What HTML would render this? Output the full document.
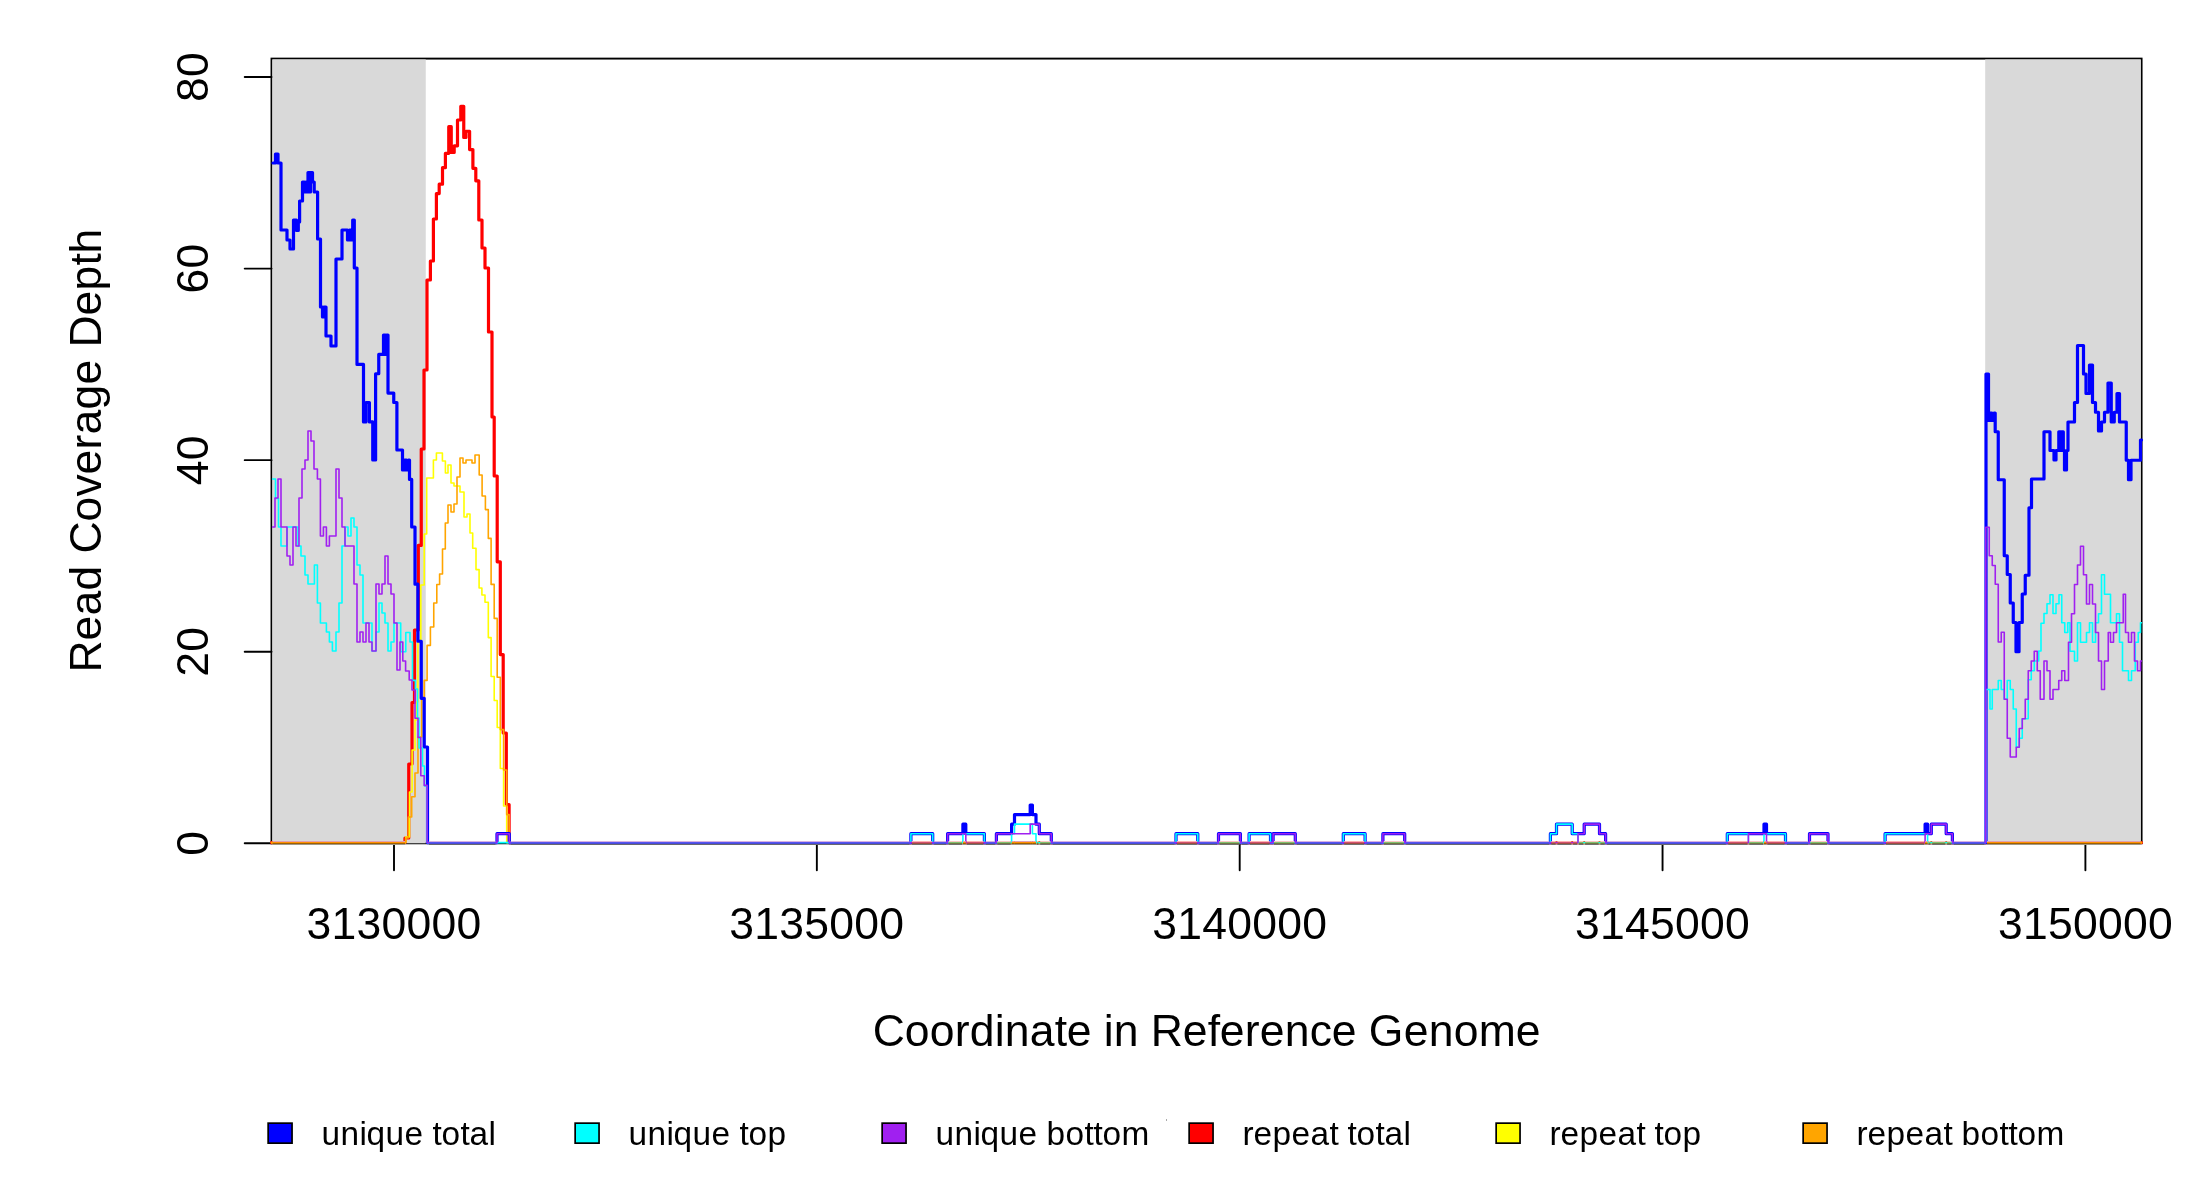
<!DOCTYPE html><html><head><meta charset="utf-8"><style>html,body{margin:0;padding:0;background:#fff;width:2200px;height:1200px;overflow:hidden}</style></head><body><svg width="2200" height="1200" viewBox="0 0 2200 1200" style="display:block;will-change:transform">
<rect x="0" y="0" width="2200" height="1200" fill="#fff"/>
<rect x="271.5" y="58.6" width="1870.1" height="784.6999999999999" fill="none" stroke="#000" stroke-width="1.9"/>
<rect x="272.3" y="59.4" width="153.45" height="783.9" fill="#d9d9d9"/>
<rect x="1985.2" y="59.4" width="155.60000000000014" height="783.9" fill="#d9d9d9"/>
<line x1="244.7" y1="843.30" x2="271.5" y2="843.30" stroke="#000" stroke-width="1.9" stroke-linecap="round"/>
<text transform="translate(207.70,843.30) rotate(-90)" x="-12.50" y="0" font-size="44.5" font-family='"Liberation Sans", sans-serif'>0</text>
<line x1="244.7" y1="651.72" x2="271.5" y2="651.72" stroke="#000" stroke-width="1.9" stroke-linecap="round"/>
<text transform="translate(207.70,651.72) rotate(-90)" x="-25.00 0.00" y="0" font-size="44.5" font-family='"Liberation Sans", sans-serif'>20</text>
<line x1="244.7" y1="460.15" x2="271.5" y2="460.15" stroke="#000" stroke-width="1.9" stroke-linecap="round"/>
<text transform="translate(207.70,460.15) rotate(-90)" x="-25.00 0.00" y="0" font-size="44.5" font-family='"Liberation Sans", sans-serif'>40</text>
<line x1="244.7" y1="268.58" x2="271.5" y2="268.58" stroke="#000" stroke-width="1.9" stroke-linecap="round"/>
<text transform="translate(207.70,268.58) rotate(-90)" x="-25.00 0.00" y="0" font-size="44.5" font-family='"Liberation Sans", sans-serif'>60</text>
<line x1="244.7" y1="77.00" x2="271.5" y2="77.00" stroke="#000" stroke-width="1.9" stroke-linecap="round"/>
<text transform="translate(207.70,77.00) rotate(-90)" x="-25.00 0.00" y="0" font-size="44.5" font-family='"Liberation Sans", sans-serif'>80</text>
<line x1="394.00" y1="843.3" x2="394.00" y2="870.3" stroke="#000" stroke-width="1.9" stroke-linecap="round"/>
<text x="306.50 331.50 356.50 381.50 406.50 431.50 456.50" y="939.00" font-size="44.5" font-family='"Liberation Sans", sans-serif'>3130000</text>
<line x1="816.85" y1="843.3" x2="816.85" y2="870.3" stroke="#000" stroke-width="1.9" stroke-linecap="round"/>
<text x="729.35 754.35 779.35 804.35 829.35 854.35 879.35" y="939.00" font-size="44.5" font-family='"Liberation Sans", sans-serif'>3135000</text>
<line x1="1239.70" y1="843.3" x2="1239.70" y2="870.3" stroke="#000" stroke-width="1.9" stroke-linecap="round"/>
<text x="1152.20 1177.20 1202.20 1227.20 1252.20 1277.20 1302.20" y="939.00" font-size="44.5" font-family='"Liberation Sans", sans-serif'>3140000</text>
<line x1="1662.55" y1="843.3" x2="1662.55" y2="870.3" stroke="#000" stroke-width="1.9" stroke-linecap="round"/>
<text x="1575.05 1600.05 1625.05 1650.05 1675.05 1700.05 1725.05" y="939.00" font-size="44.5" font-family='"Liberation Sans", sans-serif'>3145000</text>
<line x1="2085.40" y1="843.3" x2="2085.40" y2="870.3" stroke="#000" stroke-width="1.9" stroke-linecap="round"/>
<text x="1997.90 2022.90 2047.90 2072.90 2097.90 2122.90 2147.90" y="939.00" font-size="44.5" font-family='"Liberation Sans", sans-serif'>3150000</text>
<text x="872.80 904.80 929.80 954.80 969.80 994.80 1004.80 1029.80 1054.80 1066.80 1091.80 1103.80 1113.80 1138.80 1150.80 1182.80 1207.80 1219.80 1244.80 1259.80 1284.80 1309.80 1331.80 1356.80 1368.80 1403.80 1428.80 1453.80 1478.80 1515.80" y="1046.00" font-size="44.5" font-family='"Liberation Sans", sans-serif'>Coordinate in Reference Genome</text>
<text transform="translate(100.90,450.50) rotate(-90)" x="-222.00 -190.00 -165.00 -140.00 -115.00 -103.00 -71.00 -46.00 -24.00 1.00 16.00 41.00 66.00 91.00 103.00 135.00 160.00 185.00 197.00" y="0" font-size="44.5" font-family='"Liberation Sans", sans-serif'>Read Coverage Depth</text>
<path d="M271.50,842.60 L405.00,842.60 L405.00,838.00 L408.75,838.00 L408.75,764.00 L412.00,764.00 L412.00,702.50 L414.50,702.50 L414.50,630.00 L418.30,630.00 L418.30,545.40 L421.25,545.40 L421.25,449.00 L424.00,449.00 L424.00,370.00 L427.00,370.00 L427.00,280.00 L430.40,280.00 L430.40,261.00 L433.40,261.00 L433.40,219.00 L436.40,219.00 L436.40,193.60 L439.20,193.60 L439.20,184.20 L442.50,184.20 L442.50,167.70 L445.40,167.70 L445.40,153.30 L448.75,153.30 L448.75,126.70 L451.25,126.70 L451.25,152.50 L454.20,152.50 L454.20,145.80 L457.50,145.80 L457.50,120.00 L460.80,120.00 L460.80,106.25 L463.75,106.25 L463.75,137.50 L466.00,137.50 L466.00,131.25 L469.60,131.25 L469.60,149.60 L472.90,149.60 L472.90,168.30 L475.80,168.30 L475.80,180.80 L478.80,180.80 L478.80,220.00 L482.00,220.00 L482.00,248.00 L485.00,248.00 L485.00,268.00 L488.50,268.00 L488.50,332.00 L492.00,332.00 L492.00,417.00 L494.20,417.00 L494.20,476.00 L497.20,476.00 L497.20,561.80 L500.30,561.80 L500.30,654.60 L503.20,654.60 L503.20,733.00 L506.30,733.00 L506.30,804.60 L509.10,804.60 L509.10,842.60 L2141.50,842.60" fill="none" stroke="#ff0000" stroke-width="3.2" stroke-linejoin="round" stroke-linecap="round"/>
<path d="M271.50,842.60 L405.70,842.60 L405.70,837.00 L409.50,837.00 L409.50,792.00 L412.10,792.00 L412.10,750.00 L415.00,750.00 L415.00,720.00 L416.50,720.00 L416.50,702.00 L417.90,702.00 L417.90,640.00 L420.80,640.00 L420.80,585.00 L424.20,585.00 L424.20,534.00 L426.70,534.00 L426.70,478.00 L433.40,478.00 L433.40,460.00 L436.40,460.00 L436.40,453.00 L442.40,453.00 L442.40,461.00 L445.40,461.00 L445.40,473.00 L448.00,473.00 L448.00,465.00 L451.00,465.00 L451.00,483.00 L454.00,483.00 L454.00,486.00 L460.00,486.00 L460.00,492.00 L464.00,492.00 L464.00,517.00 L467.00,517.00 L467.00,514.00 L470.00,514.00 L470.00,533.00 L472.70,533.00 L472.70,548.30 L476.00,548.30 L476.00,569.60 L479.10,569.60 L479.10,588.00 L481.90,588.00 L481.90,595.00 L485.00,595.00 L485.00,602.20 L488.30,602.20 L488.30,637.60 L491.10,637.60 L491.10,676.50 L494.20,676.50 L494.20,700.50 L497.20,700.50 L497.20,727.50 L500.30,727.50 L500.30,768.50 L503.60,768.50 L503.60,806.00 L506.70,806.00 L506.70,842.60 L2141.50,842.60" fill="none" stroke="#ffff00" stroke-width="1.6" stroke-linejoin="round" stroke-linecap="round"/>
<path d="M271.50,842.60 L405.70,842.60 L405.70,838.00 L408.30,838.00 L408.30,817.00 L411.70,817.00 L411.70,796.70 L415.00,796.70 L415.00,773.00 L418.00,773.00 L418.00,737.00 L421.70,737.00 L421.70,698.75 L424.20,698.75 L424.20,680.40 L427.10,680.40 L427.10,645.40 L430.40,645.40 L430.40,627.00 L433.75,627.00 L433.75,603.00 L436.80,603.00 L436.80,584.50 L439.60,584.50 L439.60,574.00 L442.50,574.00 L442.50,549.00 L445.30,549.00 L445.30,523.00 L448.00,523.00 L448.00,505.00 L451.00,505.00 L451.00,512.00 L454.00,512.00 L454.00,504.00 L457.00,504.00 L457.00,477.00 L460.00,477.00 L460.00,458.00 L463.00,458.00 L463.00,463.00 L466.00,463.00 L466.00,460.00 L472.00,460.00 L472.00,463.00 L475.00,463.00 L475.00,455.00 L479.20,455.00 L479.20,475.00 L482.10,475.00 L482.10,496.00 L485.40,496.00 L485.40,509.60 L488.30,509.60 L488.30,538.40 L491.10,538.40 L491.10,584.40 L494.20,584.40 L494.20,618.40 L497.20,618.40 L497.20,677.20 L500.30,677.20 L500.30,729.60 L503.60,729.60 L503.60,770.00 L506.70,770.00 L506.70,814.60 L509.10,814.60 L509.10,842.60 L2141.50,842.60" fill="none" stroke="#ffa500" stroke-width="1.6" stroke-linejoin="round" stroke-linecap="round"/>
<path d="M273.00,163.00 L275.50,163.00 L275.50,154.00 L278.00,154.00 L278.00,163.00 L281.00,163.00 L281.00,230.00 L287.00,230.00 L287.00,240.00 L290.00,240.00 L290.00,249.00 L293.50,249.00 L293.50,220.00 L296.50,220.00 L296.50,230.50 L298.30,230.50 L298.30,222.00 L299.60,222.00 L299.60,201.00 L302.50,201.00 L302.50,182.00 L304.50,182.00 L304.50,192.00 L306.00,192.00 L306.00,182.00 L307.30,182.00 L307.30,192.00 L308.00,192.00 L308.00,172.50 L309.30,172.50 L309.30,192.00 L310.50,192.00 L310.50,172.50 L312.50,172.50 L312.50,182.00 L314.20,182.00 L314.20,192.00 L317.60,192.00 L317.60,239.00 L320.50,239.00 L320.50,307.00 L322.50,307.00 L322.50,317.00 L324.00,317.00 L324.00,307.00 L326.00,307.00 L326.00,336.00 L331.00,336.00 L331.00,346.00 L336.00,346.00 L336.00,259.00 L342.00,259.00 L342.00,230.00 L347.50,230.00 L347.50,240.00 L349.50,240.00 L349.50,230.00 L351.00,230.00 L351.00,240.00 L352.70,240.00 L352.70,220.00 L354.30,220.00 L354.30,268.00 L357.00,268.00 L357.00,364.40 L363.50,364.40 L363.50,421.90 L366.00,421.90 L366.00,402.50 L369.40,402.50 L369.40,421.90 L372.75,421.90 L372.75,460.00 L375.60,460.00 L375.60,373.75 L378.75,373.75 L378.75,354.40 L383.50,354.40 L383.50,335.00 L385.50,335.00 L385.50,354.40 L386.50,354.40 L386.50,335.00 L388.00,335.00 L388.00,393.10 L393.75,393.10 L393.75,402.50 L396.90,402.50 L396.90,450.00 L402.50,450.00 L402.50,470.00 L404.50,470.00 L404.50,460.00 L406.50,460.00 L406.50,470.00 L408.50,470.00 L408.50,460.00 L409.50,460.00 L409.50,479.40 L411.70,479.40 L411.70,527.00 L415.00,527.00 L415.00,584.20 L417.90,584.20 L417.90,641.25 L421.25,641.25 L421.25,698.30 L424.20,698.30 L424.20,747.00 L427.50,747.00 L427.50,842.60 L497.00,842.60 L497.00,833.72 L509.30,833.72 L509.30,842.60 L910.90,842.60 L910.90,833.72 L932.70,833.72 L932.70,842.60 L947.60,842.60 L947.60,833.72 L962.90,833.72 L962.90,824.14 L965.80,824.14 L965.80,833.72 L984.40,833.72 L984.40,842.60 L996.40,842.60 L996.40,833.72 L1011.60,833.72 L1011.60,824.14 L1014.50,824.14 L1014.50,814.56 L1030.20,814.56 L1030.20,804.98 L1032.40,804.98 L1032.40,814.56 L1036.00,814.56 L1036.00,824.14 L1039.30,824.14 L1039.30,833.72 L1051.30,833.72 L1051.30,842.60 L1176.00,842.60 L1176.00,833.72 L1197.80,833.72 L1197.80,842.60 L1218.50,842.60 L1218.50,833.72 L1240.40,833.72 L1240.40,842.60 L1249.10,842.60 L1249.10,833.72 L1270.50,833.72 L1270.50,842.60 L1273.10,842.60 L1273.10,833.72 L1295.30,833.72 L1295.30,842.60 L1343.30,842.60 L1343.30,833.72 L1365.10,833.72 L1365.10,842.60 L1382.90,842.60 L1382.90,833.72 L1404.70,833.72 L1404.70,842.60 L1550.40,842.60 L1550.40,833.72 L1556.50,833.72 L1556.50,824.14 L1572.20,824.14 L1572.20,833.72 L1578.00,833.72 L1578.00,833.72 L1584.20,833.72 L1584.20,824.14 L1599.50,824.14 L1599.50,833.72 L1605.60,833.72 L1605.60,842.60 L1727.30,842.60 L1727.30,833.72 L1748.40,833.72 L1748.40,833.72 L1764.00,833.72 L1764.00,824.14 L1766.50,824.14 L1766.50,833.72 L1785.50,833.72 L1785.50,842.60 L1809.50,842.60 L1809.50,833.72 L1828.00,833.72 L1828.00,842.60 L1885.10,842.60 L1885.10,833.72 L1925.10,833.72 L1925.10,824.14 L1927.60,824.14 L1927.60,833.72 L1931.30,833.72 L1931.30,824.14 L1946.20,824.14 L1946.20,833.72 L1952.40,833.72 L1952.40,842.60 L1986.00,842.60 L1986.00,374.00 L1988.50,374.00 L1988.50,420.50 L1990.00,420.50 L1990.00,413.00 L1992.00,413.00 L1992.00,420.50 L1994.00,420.50 L1994.00,413.00 L1995.20,413.00 L1995.20,431.75 L1998.25,431.75 L1998.25,479.75 L2004.25,479.75 L2004.25,555.75 L2007.25,555.75 L2007.25,574.50 L2010.25,574.50 L2010.25,603.00 L2013.25,603.00 L2013.25,622.50 L2016.00,622.50 L2016.00,651.75 L2019.00,651.75 L2019.00,622.50 L2022.25,622.50 L2022.25,594.00 L2025.25,594.00 L2025.25,575.25 L2029.00,575.25 L2029.00,507.75 L2031.50,507.75 L2031.50,479.00 L2044.00,479.00 L2044.00,431.75 L2050.00,431.75 L2050.00,450.50 L2054.00,450.50 L2054.00,460.00 L2056.00,460.00 L2056.00,450.50 L2058.80,450.50 L2058.80,431.75 L2060.50,431.75 L2060.50,450.50 L2061.80,450.50 L2061.80,431.75 L2063.30,431.75 L2063.30,450.50 L2064.50,450.50 L2064.50,470.00 L2066.50,470.00 L2066.50,450.50 L2068.00,450.50 L2068.00,422.00 L2074.50,422.00 L2074.50,402.50 L2077.50,402.50 L2077.50,345.50 L2083.50,345.50 L2083.50,374.00 L2086.00,374.00 L2086.00,393.50 L2089.50,393.50 L2089.50,365.00 L2092.50,365.00 L2092.50,402.50 L2095.50,402.50 L2095.50,412.25 L2098.50,412.25 L2098.50,431.00 L2101.50,431.00 L2101.50,422.00 L2104.50,422.00 L2104.50,412.25 L2108.00,412.25 L2108.00,383.00 L2111.25,383.00 L2111.25,422.00 L2114.25,422.00 L2114.25,412.25 L2117.00,412.25 L2117.00,393.50 L2119.50,393.50 L2119.50,422.00 L2126.25,422.00 L2126.25,460.25 L2128.50,460.25 L2128.50,479.75 L2131.00,479.75 L2131.00,460.25 L2140.50,460.25 L2140.50,440.00 L2141.50,440.00" fill="none" stroke="#0000ff" stroke-width="3.2" stroke-linejoin="round" stroke-linecap="round"/>
<path d="M272.60,479.00 L275.50,479.00 L275.50,498.50 L278.50,498.50 L278.50,527.00 L281.00,527.00 L281.00,546.00 L287.00,546.00 L287.00,527.00 L298.00,527.00 L298.00,546.00 L301.00,546.00 L301.00,556.00 L305.00,556.00 L305.00,575.00 L308.00,575.00 L308.00,584.00 L314.40,584.00 L314.40,565.00 L317.40,565.00 L317.40,603.00 L320.40,603.00 L320.40,623.00 L326.40,623.00 L326.40,632.00 L329.40,632.00 L329.40,642.00 L332.40,642.00 L332.40,651.00 L336.00,651.00 L336.00,632.00 L339.00,632.00 L339.00,603.00 L342.00,603.00 L342.00,546.00 L345.00,546.00 L345.00,527.00 L348.00,527.00 L348.00,536.00 L351.00,536.00 L351.00,518.00 L354.00,518.00 L354.00,527.00 L357.00,527.00 L357.00,565.00 L360.00,565.00 L360.00,575.00 L363.00,575.00 L363.00,623.00 L372.00,623.00 L372.00,651.00 L376.00,651.00 L376.00,632.00 L379.00,632.00 L379.00,603.00 L382.00,603.00 L382.00,613.00 L385.00,613.00 L385.00,623.00 L388.00,623.00 L388.00,651.00 L391.00,651.00 L391.00,642.00 L394.00,642.00 L394.00,623.00 L400.70,623.00 L400.70,651.80 L405.80,651.80 L405.80,632.50 L410.00,632.50 L410.00,642.00 L412.50,642.00 L412.50,680.40 L415.40,680.40 L415.40,689.00 L417.50,689.00 L417.50,718.00 L419.00,718.00 L419.00,748.00 L422.50,748.00 L422.50,766.00 L424.50,766.00 L424.50,786.00 L427.00,786.00 L427.00,842.60 L910.90,842.60 L910.90,833.72 L932.70,833.72 L932.70,842.60 L962.90,842.60 L962.90,833.72 L984.40,833.72 L984.40,842.60 L1011.60,842.60 L1011.60,833.72 L1014.50,833.72 L1014.50,824.14 L1032.40,824.14 L1032.40,833.72 L1036.00,833.72 L1036.00,842.60 L1176.00,842.60 L1176.00,833.72 L1197.80,833.72 L1197.80,842.60 L1249.10,842.60 L1249.10,833.72 L1270.50,833.72 L1270.50,842.60 L1343.30,842.60 L1343.30,833.72 L1365.10,833.72 L1365.10,842.60 L1550.40,842.60 L1550.40,833.72 L1556.50,833.72 L1556.50,824.14 L1572.20,824.14 L1572.20,833.72 L1578.00,833.72 L1578.00,842.60 L1727.30,842.60 L1727.30,833.72 L1748.40,833.72 L1748.40,842.60 L1764.00,842.60 L1764.00,833.72 L1785.50,833.72 L1785.50,842.60 L1885.10,842.60 L1885.10,833.72 L1927.60,833.72 L1927.60,842.60 L1985.80,842.60 L1985.80,689.50 L1990.00,689.50 L1990.00,709.00 L1992.25,709.00 L1992.25,689.50 L1998.25,689.50 L1998.25,680.50 L2001.25,680.50 L2001.25,689.50 L2004.25,689.50 L2004.25,699.25 L2007.25,699.25 L2007.25,680.50 L2010.25,680.50 L2010.25,689.50 L2013.25,689.50 L2013.25,709.00 L2016.25,709.00 L2016.25,747.25 L2019.25,747.25 L2019.25,738.25 L2022.25,738.25 L2022.25,718.75 L2028.25,718.75 L2028.25,679.75 L2031.25,679.75 L2031.25,670.75 L2034.25,670.75 L2034.25,661.00 L2038.75,661.00 L2038.75,651.00 L2041.00,651.00 L2041.00,623.25 L2044.00,623.25 L2044.00,613.50 L2047.00,613.50 L2047.00,603.75 L2050.00,603.75 L2050.00,594.75 L2053.00,594.75 L2053.00,613.50 L2056.00,613.50 L2056.00,603.75 L2059.00,603.75 L2059.00,594.75 L2061.75,594.75 L2061.75,622.75 L2064.75,622.75 L2064.75,632.50 L2067.75,632.50 L2067.75,622.75 L2070.00,622.75 L2070.00,651.25 L2074.50,651.25 L2074.50,661.00 L2077.50,661.00 L2077.50,622.75 L2080.50,622.75 L2080.50,642.25 L2086.50,642.25 L2086.50,632.50 L2089.50,632.50 L2089.50,622.75 L2092.50,622.75 L2092.50,642.25 L2095.50,642.25 L2095.50,622.75 L2098.50,622.75 L2098.50,613.75 L2101.50,613.75 L2101.50,574.75 L2104.50,574.75 L2104.50,594.25 L2110.50,594.25 L2110.50,622.75 L2116.50,622.75 L2116.50,613.75 L2119.50,613.75 L2119.50,642.25 L2122.50,642.25 L2122.50,670.75 L2128.50,670.75 L2128.50,680.50 L2131.50,680.50 L2131.50,670.75 L2135.25,670.75 L2135.25,642.25 L2138.25,642.25 L2138.25,632.50 L2140.50,632.50 L2140.50,622.75 L2141.50,622.75" fill="none" stroke="#00ffff" stroke-width="1.6" stroke-linejoin="round" stroke-linecap="round"/>
<path d="M272.60,527.00 L275.00,527.00 L275.00,498.00 L278.00,498.00 L278.00,479.00 L281.00,479.00 L281.00,527.00 L287.00,527.00 L287.00,556.00 L290.00,556.00 L290.00,565.00 L293.00,565.00 L293.00,527.00 L296.00,527.00 L296.00,546.00 L299.00,546.00 L299.00,498.00 L302.00,498.00 L302.00,469.00 L305.00,469.00 L305.00,460.00 L308.00,460.00 L308.00,431.00 L311.00,431.00 L311.00,441.00 L314.00,441.00 L314.00,469.00 L317.40,469.00 L317.40,479.00 L320.40,479.00 L320.40,536.00 L323.40,536.00 L323.40,527.00 L326.40,527.00 L326.40,546.00 L329.40,546.00 L329.40,536.00 L336.00,536.00 L336.00,469.00 L339.00,469.00 L339.00,498.00 L342.00,498.00 L342.00,527.00 L345.00,527.00 L345.00,546.00 L354.00,546.00 L354.00,584.00 L357.00,584.00 L357.00,642.00 L360.00,642.00 L360.00,632.00 L363.00,632.00 L363.00,642.00 L366.00,642.00 L366.00,623.00 L369.00,623.00 L369.00,642.00 L372.00,642.00 L372.00,651.00 L376.00,651.00 L376.00,584.00 L379.00,584.00 L379.00,594.00 L382.00,594.00 L382.00,584.00 L385.00,584.00 L385.00,556.00 L388.00,556.00 L388.00,584.00 L391.00,584.00 L391.00,594.00 L394.00,594.00 L394.00,623.00 L397.00,623.00 L397.00,670.00 L400.00,670.00 L400.00,642.00 L402.80,642.00 L402.80,661.00 L405.60,661.00 L405.60,671.00 L409.20,671.00 L409.20,680.00 L412.00,680.00 L412.00,690.00 L415.00,690.00 L415.00,718.30 L418.00,718.30 L418.00,737.50 L420.80,737.50 L420.80,775.80 L424.20,775.80 L424.20,785.40 L427.10,785.40 L427.10,842.60 L497.00,842.60 L497.00,833.72 L509.30,833.72 L509.30,842.60 L947.60,842.60 L947.60,833.72 L965.80,833.72 L965.80,842.60 L996.40,842.60 L996.40,833.72 L1030.20,833.72 L1030.20,824.14 L1039.30,824.14 L1039.30,833.72 L1051.30,833.72 L1051.30,842.60 L1218.50,842.60 L1218.50,833.72 L1240.40,833.72 L1240.40,842.60 L1273.10,842.60 L1273.10,833.72 L1295.30,833.72 L1295.30,842.60 L1382.90,842.60 L1382.90,833.72 L1404.70,833.72 L1404.70,842.60 L1578.00,842.60 L1578.00,833.72 L1584.20,833.72 L1584.20,824.14 L1599.50,824.14 L1599.50,833.72 L1605.60,833.72 L1605.60,842.60 L1748.40,842.60 L1748.40,833.72 L1766.50,833.72 L1766.50,842.60 L1809.50,842.60 L1809.50,833.72 L1828.00,833.72 L1828.00,842.60 L1925.10,842.60 L1925.10,833.72 L1931.30,833.72 L1931.30,824.14 L1946.20,824.14 L1946.20,833.72 L1952.40,833.72 L1952.40,842.60 L1985.80,842.60 L1985.80,527.25 L1989.25,527.25 L1989.25,555.75 L1992.25,555.75 L1992.25,565.50 L1995.25,565.50 L1995.25,584.25 L1998.25,584.25 L1998.25,642.00 L2001.25,642.00 L2001.25,632.25 L2004.25,632.25 L2004.25,699.25 L2007.25,699.25 L2007.25,738.25 L2010.25,738.25 L2010.25,757.00 L2016.25,757.00 L2016.25,747.25 L2019.25,747.25 L2019.25,728.50 L2022.25,728.50 L2022.25,718.75 L2025.25,718.75 L2025.25,699.25 L2028.25,699.25 L2028.25,670.75 L2031.25,670.75 L2031.25,661.00 L2034.25,661.00 L2034.25,651.25 L2037.25,651.25 L2037.25,670.75 L2040.25,670.75 L2040.25,699.25 L2044.00,699.25 L2044.00,661.00 L2047.00,661.00 L2047.00,670.75 L2050.00,670.75 L2050.00,699.25 L2053.00,699.25 L2053.00,689.50 L2058.75,689.50 L2058.75,680.50 L2061.75,680.50 L2061.75,670.75 L2064.75,670.75 L2064.75,680.50 L2068.50,680.50 L2068.50,642.25 L2071.50,642.25 L2071.50,613.75 L2074.50,613.75 L2074.50,584.50 L2077.50,584.50 L2077.50,565.00 L2080.50,565.00 L2080.50,546.25 L2083.50,546.25 L2083.50,574.75 L2086.50,574.75 L2086.50,604.00 L2089.50,604.00 L2089.50,584.50 L2092.50,584.50 L2092.50,604.00 L2095.50,604.00 L2095.50,632.50 L2098.50,632.50 L2098.50,661.00 L2101.50,661.00 L2101.50,689.50 L2104.50,689.50 L2104.50,661.00 L2108.25,661.00 L2108.25,632.50 L2110.50,632.50 L2110.50,642.25 L2113.50,642.25 L2113.50,632.50 L2116.50,632.50 L2116.50,622.75 L2123.25,622.75 L2123.25,594.25 L2125.50,594.25 L2125.50,632.50 L2128.50,632.50 L2128.50,642.25 L2131.50,642.25 L2131.50,632.50 L2134.50,632.50 L2134.50,661.00 L2137.50,661.00 L2137.50,670.75 L2140.50,670.75 L2140.50,661.00 L2141.50,661.00" fill="none" stroke="#a020f0" stroke-width="1.6" stroke-linejoin="round" stroke-linecap="round"/>
<rect x="272.50" y="841" width="132.50" height="1" fill="#e0a0b0"/>
<rect x="272.50" y="842" width="132.50" height="1" fill="#ff9000"/>
<rect x="272.50" y="843" width="132.50" height="1" fill="#a06000"/>
<rect x="272.50" y="844" width="132.50" height="1" fill="#a09888"/>
<rect x="1987.00" y="841" width="153.60" height="1" fill="#e0a0b0"/>
<rect x="1987.00" y="842" width="153.60" height="1" fill="#ff9000"/>
<rect x="1987.00" y="843" width="153.60" height="1" fill="#a06000"/>
<rect x="1987.00" y="844" width="153.60" height="1" fill="#a09888"/>
<rect x="429.00" y="841" width="66.50" height="1" fill="#d8b0e0"/>
<rect x="429.00" y="842" width="66.50" height="1" fill="#5555f0"/>
<rect x="429.00" y="843" width="66.50" height="1" fill="#4a4ad8"/>
<rect x="429.00" y="844" width="66.50" height="1" fill="#68686e"/>
<rect x="510.80" y="841" width="398.60" height="1" fill="#d8b0e0"/>
<rect x="510.80" y="842" width="398.60" height="1" fill="#5555f0"/>
<rect x="510.80" y="843" width="398.60" height="1" fill="#4a4ad8"/>
<rect x="510.80" y="844" width="398.60" height="1" fill="#68686e"/>
<rect x="911.80" y="841" width="20.00" height="1" fill="#ffb0b0"/>
<rect x="911.80" y="842" width="20.00" height="1" fill="#d05070"/>
<rect x="911.80" y="843" width="20.00" height="1" fill="#a04c40"/>
<rect x="911.80" y="844" width="20.00" height="1" fill="#707070"/>
<rect x="934.20" y="841" width="11.90" height="1" fill="#d8b0e0"/>
<rect x="934.20" y="842" width="11.90" height="1" fill="#5555f0"/>
<rect x="934.20" y="843" width="11.90" height="1" fill="#4a4ad8"/>
<rect x="934.20" y="844" width="11.90" height="1" fill="#68686e"/>
<rect x="948.50" y="841" width="13.50" height="1" fill="#f8c8c0"/>
<rect x="948.50" y="842" width="13.50" height="1" fill="#80c070"/>
<rect x="948.50" y="843" width="13.50" height="1" fill="#707840"/>
<rect x="948.50" y="844" width="13.50" height="1" fill="#707070"/>
<rect x="962.90" y="841" width="2.90" height="1" fill="#e0a0b0"/>
<rect x="962.90" y="842" width="2.90" height="1" fill="#ff9000"/>
<rect x="962.90" y="843" width="2.90" height="1" fill="#a06000"/>
<rect x="962.90" y="844" width="2.90" height="1" fill="#a09888"/>
<rect x="966.70" y="841" width="16.80" height="1" fill="#ffb0b0"/>
<rect x="966.70" y="842" width="16.80" height="1" fill="#d05070"/>
<rect x="966.70" y="843" width="16.80" height="1" fill="#a04c40"/>
<rect x="966.70" y="844" width="16.80" height="1" fill="#707070"/>
<rect x="985.90" y="841" width="9.00" height="1" fill="#d8b0e0"/>
<rect x="985.90" y="842" width="9.00" height="1" fill="#5555f0"/>
<rect x="985.90" y="843" width="9.00" height="1" fill="#4a4ad8"/>
<rect x="985.90" y="844" width="9.00" height="1" fill="#68686e"/>
<rect x="997.30" y="841" width="13.40" height="1" fill="#f8c8c0"/>
<rect x="997.30" y="842" width="13.40" height="1" fill="#80c070"/>
<rect x="997.30" y="843" width="13.40" height="1" fill="#707840"/>
<rect x="997.30" y="844" width="13.40" height="1" fill="#707070"/>
<rect x="1011.60" y="841" width="2.90" height="1" fill="#e0a0b0"/>
<rect x="1011.60" y="842" width="2.90" height="1" fill="#ff9000"/>
<rect x="1011.60" y="843" width="2.90" height="1" fill="#a06000"/>
<rect x="1011.60" y="844" width="2.90" height="1" fill="#a09888"/>
<rect x="1014.50" y="841" width="15.70" height="1" fill="#e0a0b0"/>
<rect x="1014.50" y="842" width="15.70" height="1" fill="#ff9000"/>
<rect x="1014.50" y="843" width="15.70" height="1" fill="#a06000"/>
<rect x="1014.50" y="844" width="15.70" height="1" fill="#a09888"/>
<rect x="1030.20" y="841" width="2.20" height="1" fill="#e0a0b0"/>
<rect x="1030.20" y="842" width="2.20" height="1" fill="#ff9000"/>
<rect x="1030.20" y="843" width="2.20" height="1" fill="#a06000"/>
<rect x="1030.20" y="844" width="2.20" height="1" fill="#a09888"/>
<rect x="1032.40" y="841" width="3.60" height="1" fill="#e0a0b0"/>
<rect x="1032.40" y="842" width="3.60" height="1" fill="#ff9000"/>
<rect x="1032.40" y="843" width="3.60" height="1" fill="#a06000"/>
<rect x="1032.40" y="844" width="3.60" height="1" fill="#a09888"/>
<rect x="1036.90" y="841" width="1.50" height="1" fill="#f8c8c0"/>
<rect x="1036.90" y="842" width="1.50" height="1" fill="#80c070"/>
<rect x="1036.90" y="843" width="1.50" height="1" fill="#707840"/>
<rect x="1036.90" y="844" width="1.50" height="1" fill="#707070"/>
<rect x="1040.20" y="841" width="10.20" height="1" fill="#f8c8c0"/>
<rect x="1040.20" y="842" width="10.20" height="1" fill="#80c070"/>
<rect x="1040.20" y="843" width="10.20" height="1" fill="#707840"/>
<rect x="1040.20" y="844" width="10.20" height="1" fill="#707070"/>
<rect x="1052.80" y="841" width="121.70" height="1" fill="#d8b0e0"/>
<rect x="1052.80" y="842" width="121.70" height="1" fill="#5555f0"/>
<rect x="1052.80" y="843" width="121.70" height="1" fill="#4a4ad8"/>
<rect x="1052.80" y="844" width="121.70" height="1" fill="#68686e"/>
<rect x="1176.90" y="841" width="20.00" height="1" fill="#ffb0b0"/>
<rect x="1176.90" y="842" width="20.00" height="1" fill="#d05070"/>
<rect x="1176.90" y="843" width="20.00" height="1" fill="#a04c40"/>
<rect x="1176.90" y="844" width="20.00" height="1" fill="#707070"/>
<rect x="1199.30" y="841" width="17.70" height="1" fill="#d8b0e0"/>
<rect x="1199.30" y="842" width="17.70" height="1" fill="#5555f0"/>
<rect x="1199.30" y="843" width="17.70" height="1" fill="#4a4ad8"/>
<rect x="1199.30" y="844" width="17.70" height="1" fill="#68686e"/>
<rect x="1219.40" y="841" width="20.10" height="1" fill="#f8c8c0"/>
<rect x="1219.40" y="842" width="20.10" height="1" fill="#80c070"/>
<rect x="1219.40" y="843" width="20.10" height="1" fill="#707840"/>
<rect x="1219.40" y="844" width="20.10" height="1" fill="#707070"/>
<rect x="1241.90" y="841" width="5.70" height="1" fill="#d8b0e0"/>
<rect x="1241.90" y="842" width="5.70" height="1" fill="#5555f0"/>
<rect x="1241.90" y="843" width="5.70" height="1" fill="#4a4ad8"/>
<rect x="1241.90" y="844" width="5.70" height="1" fill="#68686e"/>
<rect x="1250.00" y="841" width="19.60" height="1" fill="#ffb0b0"/>
<rect x="1250.00" y="842" width="19.60" height="1" fill="#d05070"/>
<rect x="1250.00" y="843" width="19.60" height="1" fill="#a04c40"/>
<rect x="1250.00" y="844" width="19.60" height="1" fill="#707070"/>
<rect x="1274.00" y="841" width="20.40" height="1" fill="#f8c8c0"/>
<rect x="1274.00" y="842" width="20.40" height="1" fill="#80c070"/>
<rect x="1274.00" y="843" width="20.40" height="1" fill="#707840"/>
<rect x="1274.00" y="844" width="20.40" height="1" fill="#707070"/>
<rect x="1296.80" y="841" width="45.00" height="1" fill="#d8b0e0"/>
<rect x="1296.80" y="842" width="45.00" height="1" fill="#5555f0"/>
<rect x="1296.80" y="843" width="45.00" height="1" fill="#4a4ad8"/>
<rect x="1296.80" y="844" width="45.00" height="1" fill="#68686e"/>
<rect x="1344.20" y="841" width="20.00" height="1" fill="#ffb0b0"/>
<rect x="1344.20" y="842" width="20.00" height="1" fill="#d05070"/>
<rect x="1344.20" y="843" width="20.00" height="1" fill="#a04c40"/>
<rect x="1344.20" y="844" width="20.00" height="1" fill="#707070"/>
<rect x="1366.60" y="841" width="14.80" height="1" fill="#d8b0e0"/>
<rect x="1366.60" y="842" width="14.80" height="1" fill="#5555f0"/>
<rect x="1366.60" y="843" width="14.80" height="1" fill="#4a4ad8"/>
<rect x="1366.60" y="844" width="14.80" height="1" fill="#68686e"/>
<rect x="1383.80" y="841" width="20.00" height="1" fill="#f8c8c0"/>
<rect x="1383.80" y="842" width="20.00" height="1" fill="#80c070"/>
<rect x="1383.80" y="843" width="20.00" height="1" fill="#707840"/>
<rect x="1383.80" y="844" width="20.00" height="1" fill="#707070"/>
<rect x="1406.20" y="841" width="142.70" height="1" fill="#d8b0e0"/>
<rect x="1406.20" y="842" width="142.70" height="1" fill="#5555f0"/>
<rect x="1406.20" y="843" width="142.70" height="1" fill="#4a4ad8"/>
<rect x="1406.20" y="844" width="142.70" height="1" fill="#68686e"/>
<rect x="1551.30" y="841" width="4.30" height="1" fill="#ffb0b0"/>
<rect x="1551.30" y="842" width="4.30" height="1" fill="#d05070"/>
<rect x="1551.30" y="843" width="4.30" height="1" fill="#a04c40"/>
<rect x="1551.30" y="844" width="4.30" height="1" fill="#707070"/>
<rect x="1557.40" y="841" width="13.90" height="1" fill="#ffb0b0"/>
<rect x="1557.40" y="842" width="13.90" height="1" fill="#d05070"/>
<rect x="1557.40" y="843" width="13.90" height="1" fill="#a04c40"/>
<rect x="1557.40" y="844" width="13.90" height="1" fill="#707070"/>
<rect x="1573.10" y="841" width="4.00" height="1" fill="#ffb0b0"/>
<rect x="1573.10" y="842" width="4.00" height="1" fill="#d05070"/>
<rect x="1573.10" y="843" width="4.00" height="1" fill="#a04c40"/>
<rect x="1573.10" y="844" width="4.00" height="1" fill="#707070"/>
<rect x="1578.90" y="841" width="4.40" height="1" fill="#f8c8c0"/>
<rect x="1578.90" y="842" width="4.40" height="1" fill="#80c070"/>
<rect x="1578.90" y="843" width="4.40" height="1" fill="#707840"/>
<rect x="1578.90" y="844" width="4.40" height="1" fill="#707070"/>
<rect x="1585.10" y="841" width="13.50" height="1" fill="#f8c8c0"/>
<rect x="1585.10" y="842" width="13.50" height="1" fill="#80c070"/>
<rect x="1585.10" y="843" width="13.50" height="1" fill="#707840"/>
<rect x="1585.10" y="844" width="13.50" height="1" fill="#707070"/>
<rect x="1600.40" y="841" width="4.30" height="1" fill="#f8c8c0"/>
<rect x="1600.40" y="842" width="4.30" height="1" fill="#80c070"/>
<rect x="1600.40" y="843" width="4.30" height="1" fill="#707840"/>
<rect x="1600.40" y="844" width="4.30" height="1" fill="#707070"/>
<rect x="1607.10" y="841" width="118.70" height="1" fill="#d8b0e0"/>
<rect x="1607.10" y="842" width="118.70" height="1" fill="#5555f0"/>
<rect x="1607.10" y="843" width="118.70" height="1" fill="#4a4ad8"/>
<rect x="1607.10" y="844" width="118.70" height="1" fill="#68686e"/>
<rect x="1728.20" y="841" width="19.30" height="1" fill="#ffb0b0"/>
<rect x="1728.20" y="842" width="19.30" height="1" fill="#d05070"/>
<rect x="1728.20" y="843" width="19.30" height="1" fill="#a04c40"/>
<rect x="1728.20" y="844" width="19.30" height="1" fill="#707070"/>
<rect x="1749.30" y="841" width="13.80" height="1" fill="#f8c8c0"/>
<rect x="1749.30" y="842" width="13.80" height="1" fill="#80c070"/>
<rect x="1749.30" y="843" width="13.80" height="1" fill="#707840"/>
<rect x="1749.30" y="844" width="13.80" height="1" fill="#707070"/>
<rect x="1764.00" y="841" width="2.50" height="1" fill="#e0a0b0"/>
<rect x="1764.00" y="842" width="2.50" height="1" fill="#ff9000"/>
<rect x="1764.00" y="843" width="2.50" height="1" fill="#a06000"/>
<rect x="1764.00" y="844" width="2.50" height="1" fill="#a09888"/>
<rect x="1767.40" y="841" width="17.20" height="1" fill="#ffb0b0"/>
<rect x="1767.40" y="842" width="17.20" height="1" fill="#d05070"/>
<rect x="1767.40" y="843" width="17.20" height="1" fill="#a04c40"/>
<rect x="1767.40" y="844" width="17.20" height="1" fill="#707070"/>
<rect x="1787.00" y="841" width="21.00" height="1" fill="#d8b0e0"/>
<rect x="1787.00" y="842" width="21.00" height="1" fill="#5555f0"/>
<rect x="1787.00" y="843" width="21.00" height="1" fill="#4a4ad8"/>
<rect x="1787.00" y="844" width="21.00" height="1" fill="#68686e"/>
<rect x="1810.40" y="841" width="16.70" height="1" fill="#f8c8c0"/>
<rect x="1810.40" y="842" width="16.70" height="1" fill="#80c070"/>
<rect x="1810.40" y="843" width="16.70" height="1" fill="#707840"/>
<rect x="1810.40" y="844" width="16.70" height="1" fill="#707070"/>
<rect x="1829.50" y="841" width="54.10" height="1" fill="#d8b0e0"/>
<rect x="1829.50" y="842" width="54.10" height="1" fill="#5555f0"/>
<rect x="1829.50" y="843" width="54.10" height="1" fill="#4a4ad8"/>
<rect x="1829.50" y="844" width="54.10" height="1" fill="#68686e"/>
<rect x="1886.00" y="841" width="38.20" height="1" fill="#ffb0b0"/>
<rect x="1886.00" y="842" width="38.20" height="1" fill="#d05070"/>
<rect x="1886.00" y="843" width="38.20" height="1" fill="#a04c40"/>
<rect x="1886.00" y="844" width="38.20" height="1" fill="#707070"/>
<rect x="1925.10" y="841" width="2.50" height="1" fill="#e0a0b0"/>
<rect x="1925.10" y="842" width="2.50" height="1" fill="#ff9000"/>
<rect x="1925.10" y="843" width="2.50" height="1" fill="#a06000"/>
<rect x="1925.10" y="844" width="2.50" height="1" fill="#a09888"/>
<rect x="1928.50" y="841" width="1.90" height="1" fill="#f8c8c0"/>
<rect x="1928.50" y="842" width="1.90" height="1" fill="#80c070"/>
<rect x="1928.50" y="843" width="1.90" height="1" fill="#707840"/>
<rect x="1928.50" y="844" width="1.90" height="1" fill="#707070"/>
<rect x="1932.20" y="841" width="13.10" height="1" fill="#f8c8c0"/>
<rect x="1932.20" y="842" width="13.10" height="1" fill="#80c070"/>
<rect x="1932.20" y="843" width="13.10" height="1" fill="#707840"/>
<rect x="1932.20" y="844" width="13.10" height="1" fill="#707070"/>
<rect x="1947.10" y="841" width="4.40" height="1" fill="#f8c8c0"/>
<rect x="1947.10" y="842" width="4.40" height="1" fill="#80c070"/>
<rect x="1947.10" y="843" width="4.40" height="1" fill="#707840"/>
<rect x="1947.10" y="844" width="4.40" height="1" fill="#707070"/>
<rect x="1953.90" y="841" width="30.40" height="1" fill="#d8b0e0"/>
<rect x="1953.90" y="842" width="30.40" height="1" fill="#5555f0"/>
<rect x="1953.90" y="843" width="30.40" height="1" fill="#4a4ad8"/>
<rect x="1953.90" y="844" width="30.40" height="1" fill="#68686e"/>
<rect x="268.15" y="1123.15" width="23.9" height="20" fill="#0000ff" stroke="#000" stroke-width="1.7"/>
<text x="321.60 340.60 359.60 366.60 385.60 404.60 423.60 432.60 441.60 460.60 469.60 488.60" y="1144.80" font-size="33.375" font-family='"Liberation Sans", sans-serif'>unique total</text>
<rect x="575.15" y="1123.15" width="23.9" height="20" fill="#00ffff" stroke="#000" stroke-width="1.7"/>
<text x="628.60 647.60 666.60 673.60 692.60 711.60 730.60 739.60 748.60 767.60" y="1144.80" font-size="33.375" font-family='"Liberation Sans", sans-serif'>unique top</text>
<rect x="882.15" y="1123.15" width="23.9" height="20" fill="#a020f0" stroke="#000" stroke-width="1.7"/>
<text x="935.60 954.60 973.60 980.60 999.60 1018.60 1037.60 1046.60 1065.60 1084.60 1093.60 1102.60 1121.60" y="1144.80" font-size="33.375" font-family='"Liberation Sans", sans-serif'>unique bottom</text>
<rect x="1189.15" y="1123.15" width="23.9" height="20" fill="#ff0000" stroke="#000" stroke-width="1.7"/>
<text x="1242.60 1253.60 1272.60 1291.60 1310.60 1329.60 1338.60 1347.60 1356.60 1375.60 1384.60 1403.60" y="1144.80" font-size="33.375" font-family='"Liberation Sans", sans-serif'>repeat total</text>
<rect x="1496.15" y="1123.15" width="23.9" height="20" fill="#ffff00" stroke="#000" stroke-width="1.7"/>
<text x="1549.60 1560.60 1579.60 1598.60 1617.60 1636.60 1645.60 1654.60 1663.60 1682.60" y="1144.80" font-size="33.375" font-family='"Liberation Sans", sans-serif'>repeat top</text>
<rect x="1803.15" y="1123.15" width="23.9" height="20" fill="#ffa500" stroke="#000" stroke-width="1.7"/>
<text x="1856.60 1867.60 1886.60 1905.60 1924.60 1943.60 1952.60 1961.60 1980.60 1999.60 2008.60 2017.60 2036.60" y="1144.80" font-size="33.375" font-family='"Liberation Sans", sans-serif'>repeat bottom</text>
<rect x="1166" y="1119.5" width="1" height="1" fill="#555"/>
</svg></body></html>
